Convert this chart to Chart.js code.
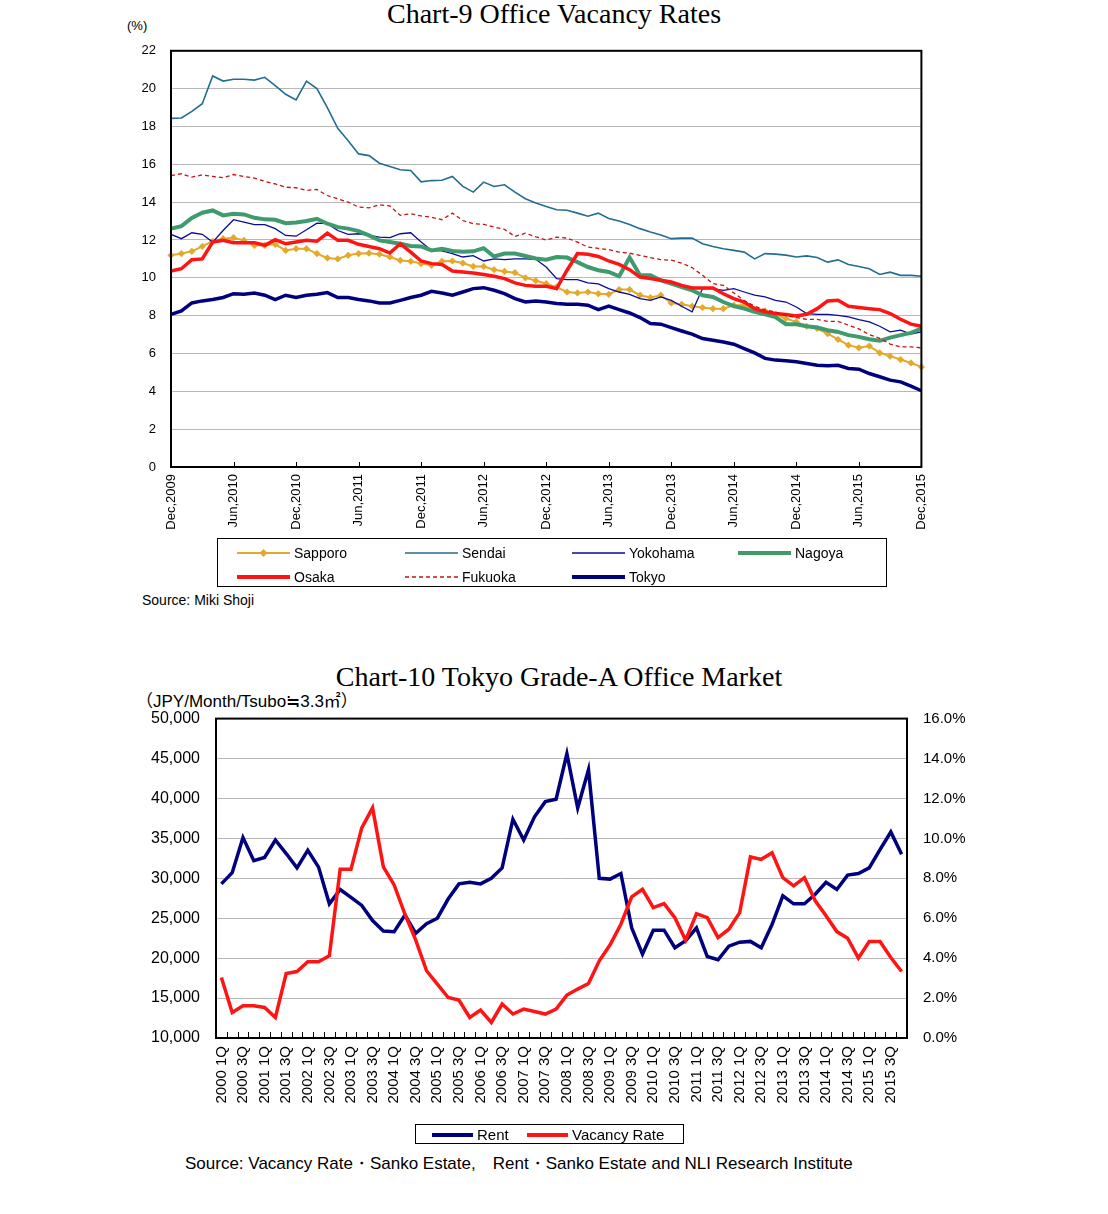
<!DOCTYPE html>
<html>
<head>
<meta charset="utf-8">
<script src="https://cdn.jsdelivr.net/npm/chart.js@4.4.1/dist/chart.umd.min.js"></script>
<style>
  body { margin: 0; background: #fff; font-family: 'Liberation Sans', Arial, sans-serif; color: #000; }
  #page { position: relative; width: 1108px; height: 1214px; overflow: hidden; }
  .abs { position: absolute; white-space: nowrap; }
  .title { font-family: 'Liberation Serif', 'DejaVu Serif', serif; font-size: 28px; width: 1108px; text-align: center; left: 0; }
  .box { position: absolute; border: 1px solid #000; box-sizing: border-box; }
  .item { position: absolute; white-space: nowrap; font-size: 14px; line-height: 16px; }
  .item svg { vertical-align: middle; margin-right: 4px; }
  .item span { vertical-align: middle; }
  canvas { position: absolute; }
</style>
</head>
<body>
<div id="page">
  <div class="abs title" style="top:-2px;">Chart-9 Office Vacancy Rates</div>
  <div class="abs" style="left:127px; top:18px; font-size:13px;">(%)</div>
  <canvas id="vacancy" width="834" height="512" style="left:110px; top:28px;"></canvas>

  <div class="box" style="left:217px; top:538px; width:670px; height:49px;"></div>
  <div id="legend9"></div>
  <div class="abs" style="left:142px; top:592px; font-size:14px;">Source: Miki Shoji</div>

  <div class="abs title" style="top:661px; left:5px;">Chart-10 Tokyo Grade-A Office Market</div>
  <div class="abs" style="left:136px; top:687px; font-size:17px; font-family:'Liberation Sans','Noto Sans CJK JP',sans-serif;">（JPY/Month/Tsubo≒3.3㎡）</div>
  <canvas id="tokyo" width="870" height="432" style="left:120px; top:693px;"></canvas>

  <div class="box" style="left:415px; top:1124px; width:269px; height:20px;"></div>
  <div id="legend10"></div>
  <div class="abs" style="left:185px; top:1152px; font-size:17px;">Source: Vacancy Rate・Sanko Estate,　Rent・Sanko Estate and NLI Research Institute</div>
</div>

<script>
// Chart-9: monthly vacancy rates, Dec 2009 .. Dec 2015 (%)
const monthNames = ['Jan', 'Feb', 'Mar', 'Apr', 'May', 'Jun', 'Jul', 'Aug', 'Sep', 'Oct', 'Nov', 'Dec'];
const months = [];
for (let i = 0; i < 73; i++) {
  months.push(monthNames[(11 + i) % 12] + ',' + (2009 + Math.floor((11 + i) / 12)));
}

const sapporo = [11.19, 11.28, 11.40, 11.66, 11.93, 12.07, 12.12, 11.98, 11.72, 11.72,
  11.77, 11.45, 11.54, 11.54, 11.28, 11.05, 11.00, 11.19, 11.28, 11.30,
  11.25, 11.10, 10.92, 10.87, 10.75, 10.66, 10.87, 10.89, 10.78, 10.60,
  10.60, 10.43, 10.34, 10.27, 10.00, 9.85, 9.69, 9.51, 9.25, 9.20,
  9.25, 9.16, 9.13, 9.38, 9.38, 9.08, 8.96, 9.08, 8.67, 8.60,
  8.50, 8.43, 8.37, 8.37, 8.55, 8.55, 8.32, 8.25, 8.07, 7.85,
  7.67, 7.44, 7.32, 7.05, 6.74, 6.44, 6.30, 6.39, 6.03, 5.86,
  5.68, 5.50, 5.29];
const sendai = [18.43, 18.45, 18.80, 19.20, 20.67, 20.40, 20.50, 20.50, 20.45, 20.60,
  20.16, 19.70, 19.40, 20.40, 20.00, 19.00, 17.90, 17.25, 16.55, 16.46,
  16.06, 15.88, 15.71, 15.67, 15.07, 15.14, 15.16, 15.36, 14.83, 14.53,
  15.06, 14.83, 14.92, 14.53, 14.18, 13.95, 13.77, 13.60, 13.57, 13.42,
  13.26, 13.42, 13.14, 13.00, 12.82, 12.60, 12.42, 12.26, 12.07, 12.10,
  12.10, 11.80, 11.66, 11.54, 11.45, 11.36, 11.00, 11.28, 11.25, 11.20,
  11.10, 11.16, 11.07, 10.83, 10.95, 10.70, 10.60, 10.48, 10.18, 10.30,
  10.13, 10.13, 10.08];
const yokohama = [12.30, 12.07, 12.38, 12.30, 11.89, 12.50, 13.07, 12.94, 12.81, 12.81,
  12.60, 12.24, 12.20, 12.54, 12.89, 12.86, 12.50, 12.30, 12.33, 12.24,
  12.15, 12.12, 12.33, 12.38, 11.89, 11.45, 11.42, 11.28, 11.10, 11.17,
  10.89, 11.00, 10.96, 11.00, 11.00, 10.98, 10.57, 9.96, 9.90, 9.90,
  9.73, 9.68, 9.43, 9.25, 9.13, 8.90, 8.81, 8.99, 8.81, 8.50,
  8.20, 9.43, 9.43, 9.34, 9.43, 9.25, 9.08, 8.99, 8.81, 8.72,
  8.46, 8.11, 8.07, 8.07, 8.02, 7.93, 7.79, 7.67, 7.44, 7.14,
  7.23, 7.02, 7.14];
const nagoya = [12.60, 12.73, 13.17, 13.44, 13.56, 13.30, 13.39, 13.35, 13.17, 13.09,
  13.07, 12.89, 12.93, 13.00, 13.12, 12.86, 12.68, 12.60, 12.47, 12.24,
  11.98, 11.89, 11.80, 11.68, 11.66, 11.45, 11.54, 11.42, 11.38, 11.40,
  11.57, 11.13, 11.28, 11.28, 11.15, 11.02, 10.96, 11.10, 11.07, 10.83,
  10.57, 10.40, 10.31, 10.08, 11.07, 10.13, 10.13, 9.87, 9.69, 9.51,
  9.34, 9.08, 8.99, 8.72, 8.50, 8.37, 8.20, 8.07, 7.93, 7.55,
  7.55, 7.44, 7.37, 7.23, 7.14, 6.97, 6.88, 6.75, 6.67, 6.84,
  6.97, 7.09, 7.32];
const osaka = [10.36, 10.48, 10.96, 11.00, 11.89, 11.98, 11.86, 11.86, 11.86, 11.72,
  12.02, 11.80, 11.89, 11.98, 11.93, 12.36, 11.98, 11.98, 11.77, 11.66,
  11.54, 11.31, 11.80, 11.36, 10.89, 10.75, 10.70, 10.36, 10.31, 10.25,
  10.17, 10.08, 9.96, 9.73, 9.60, 9.55, 9.55, 9.43, 10.40, 11.28,
  11.25, 11.13, 10.89, 10.71, 10.43, 10.04, 9.96, 9.87, 9.78, 9.60,
  9.46, 9.46, 9.46, 9.16, 8.90, 8.72, 8.37, 8.20, 8.11, 8.06,
  7.98, 8.07, 8.37, 8.78, 8.81, 8.50, 8.43, 8.37, 8.32, 8.11,
  7.81, 7.55, 7.44];
const fukuoka = [15.40, 15.50, 15.32, 15.44, 15.36, 15.29, 15.46, 15.36, 15.27, 15.10,
  14.96, 14.79, 14.76, 14.62, 14.67, 14.35, 14.18, 14.00, 13.74, 13.70,
  13.86, 13.80, 13.30, 13.39, 13.27, 13.20, 13.07, 13.42, 13.03, 12.86,
  12.83, 12.68, 12.56, 12.19, 12.36, 12.17, 12.00, 12.15, 12.10, 11.89,
  11.62, 11.56, 11.49, 11.36, 11.30, 11.19, 11.07, 10.96, 10.93, 10.78,
  10.54, 10.13, 9.69, 9.60, 9.20, 8.80, 8.50, 8.30, 8.20, 8.00,
  7.90, 7.80, 7.80, 7.70, 7.70, 7.50, 7.30, 7.00, 6.80, 6.50,
  6.35, 6.35, 6.30];
const tokyo = [8.07, 8.25, 8.67, 8.78, 8.85, 8.96, 9.16, 9.13, 9.20, 9.08,
  8.85, 9.08, 8.96, 9.08, 9.13, 9.22, 8.96, 8.96, 8.85, 8.78,
  8.67, 8.67, 8.81, 8.96, 9.08, 9.29, 9.20, 9.08, 9.25, 9.43,
  9.48, 9.34, 9.16, 8.90, 8.72, 8.78, 8.72, 8.64, 8.60, 8.60,
  8.55, 8.32, 8.50, 8.32, 8.14, 7.90, 7.58, 7.55, 7.37, 7.19,
  7.02, 6.79, 6.70, 6.61, 6.49, 6.26, 6.03, 5.74, 5.65, 5.61,
  5.56, 5.47, 5.38, 5.35, 5.38, 5.21, 5.17, 4.94, 4.77, 4.59,
  4.50, 4.27, 4.03];

// Chart-10: quarterly, 2000 1Q .. 2015 4Q
const quarters = [];
for (let i = 0; i < 64; i++) quarters.push((2000 + Math.floor(i / 4)) + ' ' + (i % 4 + 1) + 'Q');

const rent = [29300, 30700, 35100, 32200, 32600, 34800, 33100, 31300, 33500, 31400,
  26800, 28600, 27600, 26600, 24700, 23400, 23300, 25400, 23100, 24300,
  25000, 27400, 29300, 29500, 29300, 30000, 31300, 37400, 34800, 37700,
  39600, 39900, 45600, 38800, 43600, 30000, 29900, 30600, 23800, 20500,
  23500, 23500, 21300, 22200, 23800, 20200, 19800, 21500, 22000, 22100,
  21300, 24200, 27800, 26800, 26800, 28000, 29500, 28600, 30400, 30600,
  31300, 33600, 35800, 33000];
const vacancyRate = [3.03, 1.28, 1.62, 1.62, 1.53, 1.03, 3.23, 3.33, 3.82, 3.82,
  4.12, 8.45, 8.45, 10.53, 11.53, 8.57, 7.67, 6.20, 4.90, 3.37,
  2.70, 2.03, 1.90, 1.03, 1.40, 0.78, 1.70, 1.20, 1.45, 1.33,
  1.20, 1.45, 2.15, 2.45, 2.73, 3.87, 4.67, 5.70, 7.07, 7.45,
  6.53, 6.73, 6.03, 4.90, 6.23, 6.03, 5.03, 5.45, 6.28, 9.07,
  8.95, 9.28, 8.03, 7.62, 8.03, 6.87, 6.12, 5.33, 5.00, 4.00,
  4.83, 4.83, 4.03, 3.33];

const GOLD = '#e3a92a';
const TEAL = '#226d92';
const BLUE = '#0a0a9a';
const GREEN = '#3f9b6e';
const RED = '#ff1414';
const DARKRED = '#cc1111';
const NAVY = '#00007f';

// black frame round the plot + short inward ticks on the x axis
function framePlugin(tickXs, len) {
  return {
    id: 'frame',
    afterDraw(chart) {
      const { ctx, chartArea: a } = chart;
      ctx.save();
      ctx.strokeStyle = '#000';
      ctx.lineWidth = 1;
      ctx.beginPath();
      tickXs(chart).forEach(px => {
        ctx.moveTo(Math.round(px) + 0.5, a.bottom);
        ctx.lineTo(Math.round(px) + 0.5, a.bottom - len);
      });
      ctx.stroke();
      ctx.lineWidth = 2;
      ctx.strokeRect(a.left, a.top, a.right - a.left, a.bottom - a.top);
      ctx.restore();
    }
  };
}

function line(label, data, color, width, extra) {
  return Object.assign({
    label, data,
    borderColor: color,
    backgroundColor: color,
    borderWidth: width,
    pointRadius: 0,
    tension: 0,
    fill: false
  }, extra || {});
}

new Chart(document.getElementById('vacancy'), {
  type: 'line',
  data: {
    labels: months,
    datasets: [
      line('Sapporo', sapporo, GOLD, 2, { pointRadius: 3.6, pointStyle: 'rectRot', pointBorderWidth: 0, order: 6 }),
      line('Sendai', sendai, TEAL, 1.6, { order: 5 }),
      line('Yokohama', yokohama, BLUE, 1.3, { order: 4 }),
      line('Nagoya', nagoya, GREEN, 4, { order: 3 }),
      line('Osaka', osaka, RED, 3.5, { order: 2 }),
      line('Fukuoka', fukuoka, DARKRED, 1.3, { borderDash: [4, 3], order: 1 }),
      line('Tokyo', tokyo, NAVY, 3.5, { order: 0 })
    ]
  },
  options: {
    responsive: false,
    animation: false,
    layout: { padding: { top: 10, right: 15, left: 0, bottom: 0 } },
    scales: {
      x: {
        offset: false,
        grid: { display: false, drawTicks: false },
        border: { display: false },
        ticks: {
          autoSkip: false,
          minRotation: 90,
          maxRotation: 90,
          padding: 7,
          color: '#000',
          font: { family: 'Liberation Sans', size: 13 },
          callback: function (v, i) { return i % 6 === 0 ? this.getLabelForValue(v) : ''; }
        },
        afterFit: s => { s.height = 73; }
      },
      y: {
        min: 0,
        max: 22,
        grid: { color: '#b8b8b8', lineWidth: 1, drawTicks: false },
        border: { display: false },
        ticks: {
          stepSize: 2,
          padding: 15,
          color: '#000',
          font: { family: 'Liberation Sans', size: 13 }
        },
        afterFit: s => { s.width = 61; }
      }
    },
    plugins: {
      legend: { display: false },
      tooltip: { enabled: false }
    }
  },
  plugins: [framePlugin(chart => {
    const xs = [];
    for (let i = 0; i < months.length; i += 6) xs.push(chart.scales.x.getPixelForValue(i));
    return xs;
  }, 5)]
});

new Chart(document.getElementById('tokyo'), {
  type: 'line',
  data: {
    labels: quarters,
    datasets: [
      line('Rent', rent, NAVY, 3.5, { yAxisID: 'y', order: 1 }),
      line('Vacancy Rate', vacancyRate, RED, 3.5, { yAxisID: 'y1', order: 0 })
    ]
  },
  options: {
    responsive: false,
    animation: false,
    layout: { padding: { top: 12, right: 0, left: 0, bottom: 0 } },
    scales: {
      x: {
        offset: true,
        grid: { display: false, drawTicks: false },
        border: { display: false },
        ticks: {
          autoSkip: false,
          minRotation: 90,
          maxRotation: 90,
          padding: 8,
          color: '#000',
          font: { family: 'Liberation Sans', size: 15 },
          callback: function (v, i) { return i % 2 === 0 ? this.getLabelForValue(v) : ''; }
        },
        afterFit: s => { s.height = 87; }
      },
      y: {
        position: 'left',
        min: 10000,
        max: 50000,
        grid: { color: '#b8b8b8', lineWidth: 1, drawTicks: false },
        border: { display: false },
        ticks: {
          stepSize: 5000,
          padding: 16,
          color: '#000',
          font: { family: 'Liberation Sans', size: 16 },
          callback: v => v.toLocaleString('en-US')
        },
        afterFit: s => { s.width = 96; }
      },
      y1: {
        position: 'right',
        min: 0,
        max: 16,
        grid: { display: false, drawOnChartArea: false, drawTicks: false },
        border: { display: false },
        ticks: {
          stepSize: 2,
          padding: 16,
          color: '#000',
          font: { family: 'Liberation Sans', size: 15 },
          callback: v => v.toFixed(1) + '%'
        },
        afterFit: s => { s.width = 83; }
      }
    },
    plugins: {
      legend: { display: false },
      tooltip: { enabled: false }
    }
  },
  plugins: [framePlugin(chart => {
    const x = chart.scales.x;
    const step = (x.right - x.left) / quarters.length;
    const xs = [];
    for (let k = 0; k <= quarters.length; k++) xs.push(x.left + k * step);
    return xs;
  }, 6)]
});

// html legends
function sample(color, width, opts) {
  const dash = opts && opts.dash ? ` stroke-dasharray="${opts.dash}"` : '';
  const w = opts && opts.len ? opts.len : 53;
  let s = `<svg width="${w}" height="10"><line x1="0" y1="5" x2="${w}" y2="5" stroke="${color}" stroke-width="${width}"${dash}/>`;
  if (opts && opts.diamond) s += `<polygon points="${w / 2},1 ${w / 2 + 4},5 ${w / 2},9 ${w / 2 - 4},5" fill="${color}"/>`;
  return s + '</svg>';
}
const legend9 = [
  ['Sapporo', 237, 544, sample(GOLD, 2, { diamond: true })],
  ['Sendai', 405, 544, sample(TEAL, 1.6)],
  ['Yokohama', 572, 544, sample(BLUE, 1.3)],
  ['Nagoya', 738, 544, sample(GREEN, 4)],
  ['Osaka', 237, 568, sample(RED, 4)],
  ['Fukuoka', 405, 568, sample(DARKRED, 1.3, { dash: '4 3' })],
  ['Tokyo', 572, 568, sample(NAVY, 4)]
];
document.getElementById('legend9').innerHTML = legend9.map(([t, x, y, s]) =>
  `<div class="item" style="left:${x}px; top:${y}px;">${s}<span>${t}</span></div>`).join('');

const legend10 = [
  ['Rent', 432, 1126, sample(NAVY, 4, { len: 41 })],
  ['Vacancy Rate', 527, 1126, sample(RED, 4, { len: 41 })]
];
document.getElementById('legend10').innerHTML = legend10.map(([t, x, y, s]) =>
  `<div class="item" style="left:${x}px; top:${y}px; font-size:15px;">${s}<span>${t}</span></div>`).join('');
</script>
</body>
</html>
